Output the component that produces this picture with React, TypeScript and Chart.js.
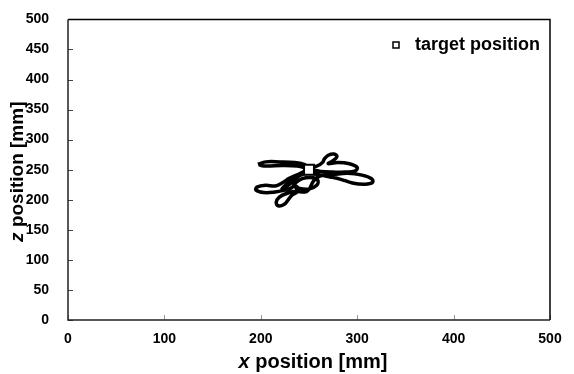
import React, { useEffect, useRef } from "react";
import { Chart, registerables } from "chart.js";

Chart.register(...registerables);

// Trajectory (mm)
const pathX = [197, 205, 220, 235, 245, 250, 258, 264, 266, 270, 276, 279, 275, 270, 280, 292, 300, 298, 288, 275, 262, 250, 240, 230, 222, 215, 205, 196, 195, 203, 215, 225, 232, 236, 243, 252, 259, 258, 250, 240, 235, 238, 232, 228, 224, 218, 216, 219, 226, 236, 246, 250, 255, 262, 275, 290, 305, 315, 316, 308, 295, 283, 272, 262, 250, 240, 230, 222, 232, 244, 252, 248, 238, 222, 205, 198];
const pathZ = [259, 263, 263, 262, 259, 254, 256, 262, 268, 274, 276, 272, 265, 260, 262, 260, 254, 248, 246, 246, 247, 250, 243, 236, 228, 223, 224, 221, 216, 212, 213, 216, 220, 228, 235, 237, 233, 224, 218, 219, 224, 214, 207, 199, 192, 190, 196, 204, 210, 214, 213, 217, 232, 240, 242, 244, 241, 235, 229, 226, 228, 234, 238, 241, 244, 240, 226, 218, 232, 244, 250, 252, 256, 257, 256, 258];
const targetX = [250];
const targetZ = [250];
const xTicks = [0, 100, 200, 300, 400, 500];
const yTicks = [0, 50, 100, 150, 200, 250, 300, 350, 400, 450, 500];
const xTitleItalic = "x";
const xTitleRest = " position [mm]";
const yTitleItalic = "z";
const yTitleRest = " position [mm]";
const legendLabel = "target position";

const FONT = "'Liberation Sans', Arial, sans-serif";

function drawMixedTitle(ctx: CanvasRenderingContext2D, it: string, rest: string, cx: number, cy: number, size: number) {
  ctx.font = `italic bold ${size}px ${FONT}`;
  const w1 = ctx.measureText(it).width;
  ctx.font = `bold ${size}px ${FONT}`;
  const w2 = ctx.measureText(rest).width;
  const start = cx - (w1 + w2) / 2;
  ctx.textBaseline = "middle";
  ctx.textAlign = "left";
  ctx.fillStyle = "#000";
  ctx.font = `italic bold ${size}px ${FONT}`;
  ctx.fillText(it, start, cy);
  ctx.font = `bold ${size}px ${FONT}`;
  ctx.fillText(rest, start + w1, cy);
}

const decorPlugin = {
  id: "decor",
  afterDraw(chart: any) {
    const ctx: CanvasRenderingContext2D = chart.ctx;
    const { left, right, top, bottom } = chart.chartArea;
    const xs = chart.scales.x;
    const ys = chart.scales.y;
    ctx.save();
    // inward ticks
    ctx.lineWidth = 1;
    ctx.strokeStyle = "#444";
    yTicks.forEach((v) => {
      const y = Math.round(ys.getPixelForValue(v)) + 0.5;
      ctx.beginPath();
      ctx.moveTo(left, y);
      ctx.lineTo(left + 5, y);
      ctx.stroke();
    });
    ctx.strokeStyle = "#999";
    xTicks.forEach((v) => {
      const x = Math.round(xs.getPixelForValue(v)) + 0.5;
      ctx.beginPath();
      ctx.moveTo(x, bottom);
      ctx.lineTo(x, bottom - 5);
      ctx.stroke();
    });
    // box
    ctx.strokeStyle = "#000";
    ctx.lineWidth = 1.5;
    ctx.beginPath();
    ctx.moveTo(left, top);
    ctx.lineTo(right, top);
    ctx.lineTo(right, bottom);
    ctx.stroke();
    ctx.strokeStyle = "#222";
    ctx.beginPath();
    ctx.moveTo(left, top);
    ctx.lineTo(left, bottom);
    ctx.lineTo(right, bottom);
    ctx.stroke();
    // titles
    drawMixedTitle(ctx, xTitleItalic, xTitleRest, (left + right) / 2 + 4, 362, 20);
    ctx.save();
    ctx.translate(18, (top + bottom) / 2 + 2);
    ctx.rotate(-Math.PI / 2);
    drawMixedTitle(ctx, yTitleItalic, yTitleRest, 0, 0, 19);
    ctx.restore();
    // legend
    ctx.fillStyle = "#fff";
    ctx.strokeStyle = "#000";
    ctx.lineWidth = 1.5;
    ctx.fillRect(393, 42, 6, 6);
    ctx.strokeRect(393, 42, 6, 6);
    ctx.fillStyle = "#000";
    ctx.font = `bold 18px ${FONT}`;
    ctx.textAlign = "left";
    ctx.textBaseline = "middle";
    ctx.fillText(legendLabel, 415, 45);
    ctx.restore();
  },
};

export default function App() {
  const ref = useRef<HTMLCanvasElement>(null);
  useEffect(() => {
    document.body.style.margin = "0";
    const canvas = ref.current!;
    const chart = new Chart(canvas, {
      type: "scatter",
      data: {
        datasets: [
          {
            label: "trajectory",
            data: pathX.map((x, i) => ({ x, y: pathZ[i] })),
            showLine: true,
            borderColor: "#000",
            borderWidth: 3.5,
            tension: 0.4,
            pointRadius: 0,
            fill: false,
            order: 2,
          },
          {
            label: legendLabel,
            data: targetX.map((x, i) => ({ x, y: targetZ[i] })),
            pointStyle: "rect",
            pointRadius: 7,
            borderWidth: 2,
            borderColor: "#000",
            backgroundColor: "#fff",
            showLine: false,
            order: 1,
          },
        ],
      },
      options: {
        responsive: false,
        animation: false,
        layout: { padding: { left: 0, right: 24, top: 17, bottom: 0 } },
        plugins: { legend: { display: false }, tooltip: { enabled: false } },
        scales: {
          x: {
            type: "linear",
            min: 0,
            max: 500,
            afterBuildTicks: (s: any) => { s.ticks = xTicks.map((v) => ({ value: v })); },
            afterFit: (s: any) => { s.height = 54; },
            grid: { display: false },
            border: { display: false },
            ticks: { color: "#000", font: { family: FONT, size: 14, weight: "bold" }, padding: 3, maxRotation: 0 },
          },
          y: {
            type: "linear",
            min: 0,
            max: 500,
            afterBuildTicks: (s: any) => { s.ticks = yTicks.map((v) => ({ value: v })); },
            afterFit: (s: any) => { s.width = 68; },
            grid: { display: false },
            border: { display: false },
            ticks: { color: "#000", font: { family: FONT, size: 14, weight: "bold" }, padding: 11 },
          },
        },
      },
      plugins: [decorPlugin],
    });
    return () => chart.destroy();
  }, []);
  return (
    <div style={{ width: 574, height: 374 }}>
      <canvas ref={ref} width={574} height={374} />
    </div>
  );
}
